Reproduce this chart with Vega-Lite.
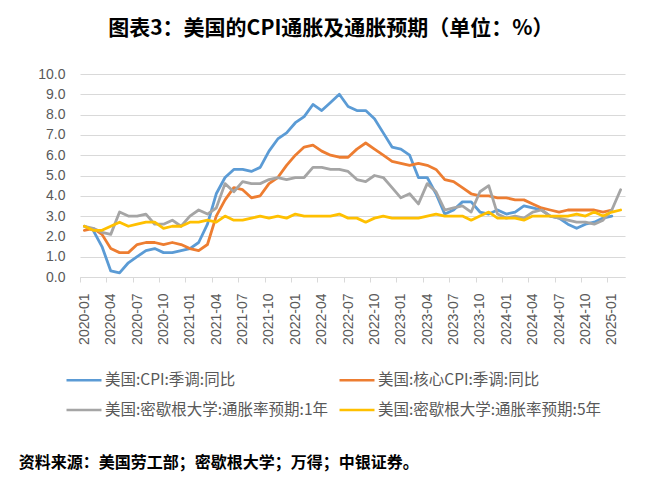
{
  "$schema": "https://vega.github.io/schema/vega-lite/v6.json",
  "background": "white",
  "padding": {"left": 18, "top": 18, "right": 20, "bottom": 8},
  "title": {
    "text": "图表3：美国的CPI通胀及通胀预期（单位：%）",
    "font": "Noto Sans CJK SC",
    "fontSize": 21,
    "fontWeight": "bold",
    "color": "#000000",
    "anchor": "middle",
    "offset": 28,
    "dx": 9
  },
  "resolve": {"scale": {"color": "independent"}, "legend": {"color": "independent"}},
  "vconcat": [
    {
      "width": 545,
      "height": 203,
      "title": {
        "text": "资料来源：美国劳工部；密歇根大学；万得；中银证券。",
        "orient": "bottom",
        "anchor": "start",
        "font": "Noto Sans CJK SC",
        "fontSize": 16,
        "fontWeight": "bold",
        "color": "#000000",
        "offset": 36,
        "dx": -19
      },
      "data": {
        "values": [
          {"m": "2020-01", "cpi": 2.5, "core": 2.3, "e1": 2.5, "e5": 2.5},
          {"m": "2020-02", "cpi": 2.3, "core": 2.4, "e1": 2.4, "e5": 2.3},
          {"m": "2020-03", "cpi": 1.5, "core": 2.1, "e1": 2.2, "e5": 2.3},
          {"m": "2020-04", "cpi": 0.3, "core": 1.4, "e1": 2.1, "e5": 2.5},
          {"m": "2020-05", "cpi": 0.2, "core": 1.2, "e1": 3.2, "e5": 2.7},
          {"m": "2020-06", "cpi": 0.7, "core": 1.2, "e1": 3.0, "e5": 2.5},
          {"m": "2020-07", "cpi": 1.0, "core": 1.6, "e1": 3.0, "e5": 2.6},
          {"m": "2020-08", "cpi": 1.3, "core": 1.7, "e1": 3.1, "e5": 2.7},
          {"m": "2020-09", "cpi": 1.4, "core": 1.7, "e1": 2.6, "e5": 2.7},
          {"m": "2020-10", "cpi": 1.2, "core": 1.6, "e1": 2.6, "e5": 2.4},
          {"m": "2020-11", "cpi": 1.2, "core": 1.7, "e1": 2.8, "e5": 2.5},
          {"m": "2020-12", "cpi": 1.3, "core": 1.6, "e1": 2.5, "e5": 2.5},
          {"m": "2021-01", "cpi": 1.4, "core": 1.4, "e1": 3.0, "e5": 2.7},
          {"m": "2021-02", "cpi": 1.7, "core": 1.3, "e1": 3.3, "e5": 2.7},
          {"m": "2021-03", "cpi": 2.6, "core": 1.6, "e1": 3.1, "e5": 2.8},
          {"m": "2021-04", "cpi": 4.1, "core": 3.0, "e1": 3.4, "e5": 2.7},
          {"m": "2021-05", "cpi": 4.9, "core": 3.8, "e1": 4.6, "e5": 3.0},
          {"m": "2021-06", "cpi": 5.3, "core": 4.4, "e1": 4.2, "e5": 2.8},
          {"m": "2021-07", "cpi": 5.3, "core": 4.3, "e1": 4.7, "e5": 2.8},
          {"m": "2021-08", "cpi": 5.2, "core": 3.9, "e1": 4.6, "e5": 2.9},
          {"m": "2021-09", "cpi": 5.4, "core": 4.0, "e1": 4.6, "e5": 3.0},
          {"m": "2021-10", "cpi": 6.2, "core": 4.6, "e1": 4.8, "e5": 2.9},
          {"m": "2021-11", "cpi": 6.8, "core": 4.9, "e1": 4.9, "e5": 3.0},
          {"m": "2021-12", "cpi": 7.1, "core": 5.5, "e1": 4.8, "e5": 2.9},
          {"m": "2022-01", "cpi": 7.6, "core": 6.0, "e1": 4.9, "e5": 3.1},
          {"m": "2022-02", "cpi": 7.9, "core": 6.4, "e1": 4.9, "e5": 3.0},
          {"m": "2022-03", "cpi": 8.5, "core": 6.5, "e1": 5.4, "e5": 3.0},
          {"m": "2022-04", "cpi": 8.2, "core": 6.2, "e1": 5.4, "e5": 3.0},
          {"m": "2022-05", "cpi": 8.6, "core": 6.0, "e1": 5.3, "e5": 3.0},
          {"m": "2022-06", "cpi": 9.0, "core": 5.9, "e1": 5.3, "e5": 3.1},
          {"m": "2022-07", "cpi": 8.4, "core": 5.9, "e1": 5.2, "e5": 2.9},
          {"m": "2022-08", "cpi": 8.2, "core": 6.3, "e1": 4.8, "e5": 2.9},
          {"m": "2022-09", "cpi": 8.2, "core": 6.6, "e1": 4.7, "e5": 2.7},
          {"m": "2022-10", "cpi": 7.8, "core": 6.3, "e1": 5.0, "e5": 2.9},
          {"m": "2022-11", "cpi": 7.1, "core": 6.0, "e1": 4.9, "e5": 3.0},
          {"m": "2022-12", "cpi": 6.4, "core": 5.7, "e1": 4.4, "e5": 2.9},
          {"m": "2023-01", "cpi": 6.3, "core": 5.6, "e1": 3.9, "e5": 2.9},
          {"m": "2023-02", "cpi": 6.0, "core": 5.5, "e1": 4.1, "e5": 2.9},
          {"m": "2023-03", "cpi": 4.9, "core": 5.6, "e1": 3.6, "e5": 2.9},
          {"m": "2023-04", "cpi": 4.9, "core": 5.5, "e1": 4.6, "e5": 3.0},
          {"m": "2023-05", "cpi": 4.1, "core": 5.3, "e1": 4.2, "e5": 3.1},
          {"m": "2023-06", "cpi": 3.1, "core": 4.8, "e1": 3.3, "e5": 3.0},
          {"m": "2023-07", "cpi": 3.3, "core": 4.7, "e1": 3.4, "e5": 3.0},
          {"m": "2023-08", "cpi": 3.7, "core": 4.4, "e1": 3.5, "e5": 3.0},
          {"m": "2023-09", "cpi": 3.7, "core": 4.1, "e1": 3.2, "e5": 2.8},
          {"m": "2023-10", "cpi": 3.2, "core": 4.0, "e1": 4.2, "e5": 3.0},
          {"m": "2023-11", "cpi": 3.1, "core": 4.0, "e1": 4.5, "e5": 3.2},
          {"m": "2023-12", "cpi": 3.3, "core": 3.9, "e1": 3.1, "e5": 2.9},
          {"m": "2024-01", "cpi": 3.1, "core": 3.9, "e1": 2.9, "e5": 2.9},
          {"m": "2024-02", "cpi": 3.2, "core": 3.8, "e1": 3.0, "e5": 2.9},
          {"m": "2024-03", "cpi": 3.5, "core": 3.8, "e1": 2.9, "e5": 2.8},
          {"m": "2024-04", "cpi": 3.4, "core": 3.6, "e1": 3.2, "e5": 3.0},
          {"m": "2024-05", "cpi": 3.3, "core": 3.4, "e1": 3.3, "e5": 3.0},
          {"m": "2024-06", "cpi": 3.0, "core": 3.3, "e1": 3.0, "e5": 3.0},
          {"m": "2024-07", "cpi": 2.9, "core": 3.2, "e1": 2.9, "e5": 3.0},
          {"m": "2024-08", "cpi": 2.6, "core": 3.3, "e1": 2.8, "e5": 3.0},
          {"m": "2024-09", "cpi": 2.4, "core": 3.3, "e1": 2.7, "e5": 3.1},
          {"m": "2024-10", "cpi": 2.6, "core": 3.3, "e1": 2.7, "e5": 3.0},
          {"m": "2024-11", "cpi": 2.7, "core": 3.3, "e1": 2.6, "e5": 3.2},
          {"m": "2024-12", "cpi": 2.9, "core": 3.2, "e1": 2.8, "e5": 3.0},
          {"m": "2025-01", "cpi": 3.0, "core": 3.3, "e1": 3.3, "e5": 3.2},
          {"m": "2025-02", "e1": 4.3, "e5": 3.3}
        ]
      },
      "transform": [{"fold": ["cpi", "core", "e1", "e5"], "as": ["s", "v"]}],
      "mark": {"type": "line", "strokeWidth": 2.8, "strokeJoin": "round", "strokeCap": "round"},
      "encoding": {
        "x": {
          "field": "m",
          "type": "ordinal",
          "scale": {"type": "point", "padding": 0.5},
          "axis": {
            "title": null,
            "values": ["2020-01", "2020-04", "2020-07", "2020-10", "2021-01", "2021-04", "2021-07", "2021-10", "2022-01", "2022-04", "2022-07", "2022-10", "2023-01", "2023-04", "2023-07", "2023-10", "2024-01", "2024-04", "2024-07", "2024-10", "2025-01"],
            "labelAngle": 270,
            "labelFont": "Liberation Sans",
            "labelFontSize": 14,
            "labelColor": "#595959",
            "labelPadding": 11,
            "tickOffset": -4.4,
            "labelOffset": 4.4,
            "domainColor": "#d9d9d9",
            "tickColor": "#d9d9d9",
            "tickSize": 5,
            "grid": false
          }
        },
        "y": {
          "field": "v",
          "type": "quantitative",
          "scale": {"domain": [0, 10], "nice": false},
          "axis": {
            "title": null,
            "values": [0, 1, 2, 3, 4, 5, 6, 7, 8, 9, 10],
            "format": ".1f",
            "labelFont": "Liberation Sans",
            "labelFontSize": 14,
            "labelColor": "#595959",
            "labelPadding": 15,
            "domain": false,
            "ticks": false,
            "gridColor": "#d9d9d9"
          }
        },
        "color": {
          "field": "s",
          "type": "nominal",
          "scale": {
            "domain": ["cpi", "core", "e1", "e5"],
            "range": ["#5b9bd5", "#ed7d31", "#a5a5a5", "#ffc000"]
          },
          "legend": {
            "title": null,
            "orient": "none",
            "legendX": -15,
            "legendY": 287,
            "direction": "horizontal",
            "columns": 2,
            "symbolType": "stroke",
            "symbolSize": 1225,
            "symbolStrokeWidth": 2.5,
            "labelFont": "Noto Sans CJK SC",
            "labelFontSize": 15.5,
            "labelColor": "#595959",
            "labelOffset": 2,
            "labelLimit": 400,
            "columnPadding": 5,
            "rowPadding": 2,
            "labelExpr": "datum.value == 'cpi' ? '美国:CPI:季调:同比' : datum.value == 'core' ? '美国:核心CPI:季调:同比' : datum.value == 'e1' ? '美国:密歇根大学:通胀率预期:1年' : '美国:密歇根大学:通胀率预期:5年'"
          }
        }
      }
    }
  ],
  "config": {"view": {"stroke": null}}
}
